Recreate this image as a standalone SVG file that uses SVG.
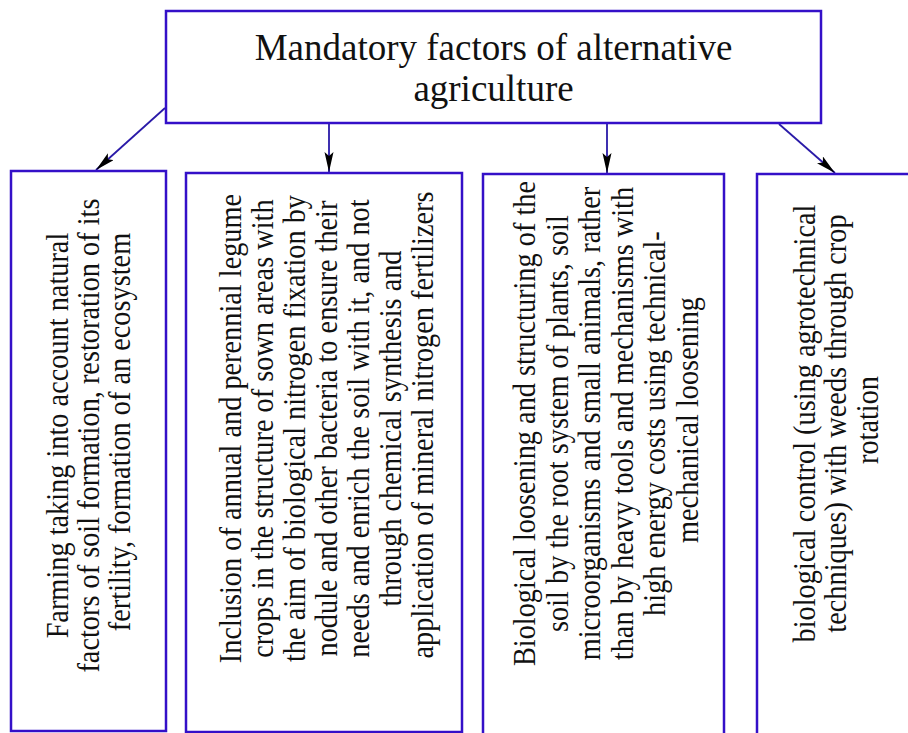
<svg xmlns="http://www.w3.org/2000/svg" width="908" height="733" viewBox="0 0 908 733">
<style>
.box{fill:#fff;stroke:#3410c8;stroke-width:2.5}
.t{font-family:"Liberation Serif","Times New Roman",serif;font-size:32px;fill:#111;text-anchor:middle}
.title{font-family:"Liberation Serif","Times New Roman",serif;font-size:37px;fill:#111;text-anchor:middle}
.c{stroke:#2a1aa8;stroke-width:1.8;fill:none;marker-end:url(#ah)}
</style>
<defs>
<marker id="ah" markerUnits="userSpaceOnUse" markerWidth="22" markerHeight="10" refX="20" refY="4.5" orient="auto">
<path d="M0,0 L20,4.5 L0,9 L4,4.5 z" fill="#000"/>
</marker>
</defs>
<rect width="908" height="733" fill="#fff"/>
<g id="connectors">
<line class="c" x1="165" y1="108" x2="96" y2="170"/>
<line class="c" x1="329" y1="123" x2="329" y2="172"/>
<line class="c" x1="607" y1="124" x2="607" y2="173"/>
<line class="c" x1="779" y1="124" x2="835" y2="173"/>
</g>
<g id="root">
<rect class="box" x="166" y="11" width="655" height="112"/>
<text class="title"><tspan x="493.5" y="59.5">Mandatory factors of alternative</tspan><tspan x="493.5" y="100.5">agriculture</tspan></text>
</g>
<g id="factor1">
<rect class="box" x="11" y="171" width="155" height="560"/>
<text class="t" transform="translate(0,432) rotate(-90) scale(0.885,1)">
<tspan x="0" y="68">Farming taking into account natural</tspan>
<tspan x="0" y="99">factors of soil formation, restoration of its</tspan>
<tspan x="0" y="130">fertility, formation of an ecosystem</tspan>
</text>
</g>
<g id="factor2">
<rect class="box" x="186" y="173" width="276" height="559"/>
<text class="t" transform="translate(0,425) rotate(-90) scale(0.885,1)">
<tspan x="0" y="241">Inclusion of annual and perennial legume</tspan>
<tspan x="0" y="273">crops in the structure of sown areas with</tspan>
<tspan x="0" y="305">the aim of biological nitrogen fixation by</tspan>
<tspan x="0" y="337">nodule and other bacteria to ensure their</tspan>
<tspan x="0" y="369">needs and enrich the soil with it, and not</tspan>
<tspan x="0" y="401">through chemical synthesis and</tspan>
<tspan x="0" y="433">application of mineral nitrogen fertilizers</tspan>
</text>
</g>
<g id="factor3">
<rect class="box" x="483" y="174" width="241" height="580"/>
<text class="t" transform="translate(0,420) rotate(-90) scale(0.885,1)">
<tspan x="0" y="535">Biological loosening and structuring of the</tspan>
<tspan x="0" y="568">soil by the root system of plants, soil</tspan>
<tspan x="0" y="600">microorganisms and small animals, rather</tspan>
<tspan x="0" y="633">than by heavy tools and mechanisms with</tspan>
<tspan x="0" y="665">high energy costs using technical-</tspan>
<tspan x="0" y="698">mechanical loosening</tspan>
</text>
</g>
<g id="factor4">
<rect class="box" x="757" y="174" width="180" height="580"/>
<text class="t" transform="translate(0,420) rotate(-90) scale(0.885,1)">
<tspan x="0" y="815">biological control (using agrotechnical</tspan>
<tspan x="0" y="846">techniques) with weeds through crop</tspan>
<tspan x="0" y="878">rotation</tspan>
</text>
</g>
</svg>
